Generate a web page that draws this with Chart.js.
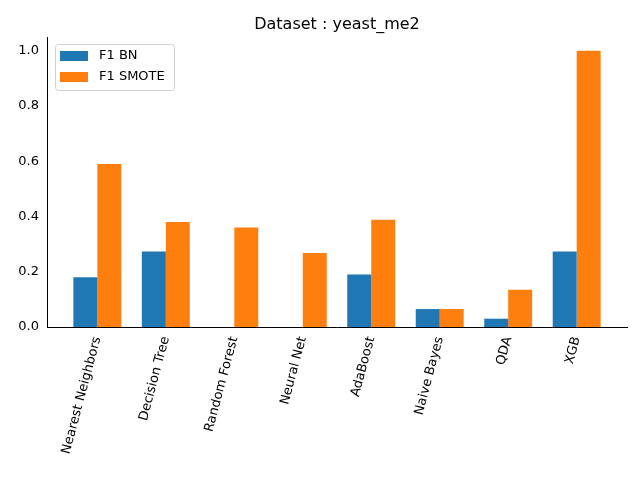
<!DOCTYPE html>
<html lang="en">
<head>
<meta charset="UTF-8">
<title>yeast_me2</title>
<script src="https://cdn.jsdelivr.net/npm/chart.js"></script>
<style>
    body { margin: 0; background: #fff; }
    #wrap { width: 640px; height: 480px; }
</style>
</head>
<body>
<div id="wrap"><canvas id="barChart" width="640" height="480"></canvas></div>
<script>
    const classifiers = ['Nearest Neighbors', 'Decision Tree', 'Random Forest', 'Neural Net', 'AdaBoost', 'Naive Bayes', 'QDA', 'XGB'];
    const f1Bn = [0.18, 0.273, 0, 0, 0.19, 0.065, 0.03, 0.273];
    const f1Smote = [0.59, 0.38, 0.36, 0.268, 0.388, 0.065, 0.135, 1.0];
    const yTicks = [0, 0.2, 0.4, 0.6, 0.8, 1.0];

    const font = { family: 'DejaVu Sans', size: 13 };

    // titulo y leyenda dibujados a mano, estilo matplotlib
    const extras = {
        id: 'extras',
        afterDraw(chart) {
            const ctx = chart.ctx, a = chart.chartArea;
            ctx.save();
            ctx.fillStyle = '#000';
            ctx.font = '16px DejaVu Sans';
            ctx.textAlign = 'center';
            ctx.textBaseline = 'alphabetic';
            ctx.fillText('Dataset : yeast_me2', (a.left + a.right) / 2, a.top - 8);

            const x = a.left + 8, y = a.top + 7;
            ctx.fillStyle = 'rgba(255,255,255,0.8)';
            ctx.strokeStyle = '#d0d0d0';
            ctx.lineWidth = 1;
            ctx.beginPath();
            ctx.roundRect(x + 0.5, y + 0.5, 119, 46, 3);
            ctx.fill();
            ctx.stroke();
            const items = [['F1 BN', '#1f77b4'], ['F1 SMOTE', '#ff7f0e']];
            ctx.font = '13px DejaVu Sans';
            ctx.textAlign = 'left';
            ctx.textBaseline = 'middle';
            items.forEach((it, i) => {
                const yy = y + 12 + i * 21;
                ctx.fillStyle = it[1];
                ctx.fillRect(x + 5, yy - 5, 28, 10);
                ctx.fillStyle = '#000';
                ctx.fillText(it[0], x + 44, yy);
            });
            ctx.restore();
        }
    };

    new Chart(document.getElementById('barChart'), {
        type: 'bar',
        data: {
            datasets: [
                { label: 'F1 BN', data: f1Bn.map((v, i) => ({ x: i, y: v })), backgroundColor: '#1f77b4' },
                { label: 'F1 SMOTE', data: f1Smote.map((v, i) => ({ x: i, y: v })), backgroundColor: '#ff7f0e' }
            ]
        },
        options: {
            responsive: false,
            animation: false,
            layout: { padding: { top: 37, right: 13, left: 0, bottom: 0 } },
            categoryPercentage: 0.7,
            barPercentage: 1.0,
            plugins: { legend: { display: false }, title: { display: false }, tooltip: { enabled: false } },
            scales: {
                x: {
                    type: 'linear',
                    min: -0.735,
                    max: 7.735,
                    offset: false,
                    grid: { display: false, drawTicks: true, tickLength: 5, tickColor: '#000' },
                    border: { color: '#000' },
                    afterBuildTicks: s => { s.ticks = classifiers.map((c, i) => ({ value: i })); },
                    afterFit: s => { s.height = 153; },
                    ticks: {
                        color: '#000', font: font, autoSkip: false,
                        minRotation: 75, maxRotation: 75,
                        callback: v => classifiers[v]
                    }
                },
                y: {
                    min: 0,
                    max: 1.05,
                    grid: { display: false, drawTicks: true, tickLength: 5, tickColor: '#000' },
                    border: { color: '#000' },
                    afterBuildTicks: s => { s.ticks = yTicks.map(v => ({ value: v })); },
                    afterFit: s => { s.width = 47; },
                    ticks: { color: '#000', font: font, callback: v => v.toFixed(1) }
                }
            }
        },
        plugins: [extras]
    });
</script>
</body>
</html>
